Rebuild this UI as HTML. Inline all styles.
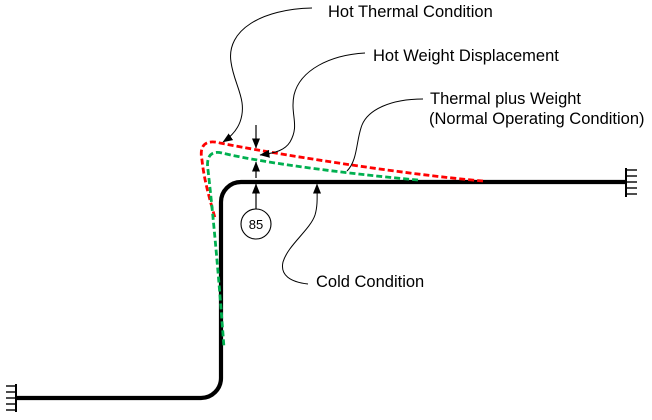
<!DOCTYPE html>
<html>
<head>
<meta charset="utf-8">
<style>
  html, body { margin: 0; padding: 0; background: #ffffff; }
  svg { display: block; }
  text { font-family: "Liberation Sans", Arial, sans-serif; fill: #000; }
</style>
</head>
<body>
<svg width="652" height="420" viewBox="0 0 652 420" xmlns="http://www.w3.org/2000/svg">
  <defs>
    <marker id="ah" markerUnits="userSpaceOnUse" markerWidth="10" markerHeight="8" refX="9.5" refY="4" orient="auto">
      <path d="M0,0 L10,4 L0,8 z" fill="#000"/>
    </marker>
  </defs>

  <!-- Pipe (cold condition) -->
  <path d="M16,398 L201,398 A20,20 0 0 0 221,378 L221,202 A20,20 0 0 1 241,182 L626,182"
        fill="none" stroke="#000" stroke-width="4.2"/>

  <!-- Left anchor hatch -->
  <line x1="16" y1="384" x2="16" y2="412" stroke="#000" stroke-width="2"/>
  <g stroke="#000" stroke-width="1.4">
    <line x1="6" y1="386" x2="16" y2="386"/>
    <line x1="6" y1="392" x2="16" y2="392"/>
    <line x1="6" y1="398" x2="16" y2="398"/>
    <line x1="6" y1="404" x2="16" y2="404"/>
    <line x1="6" y1="410" x2="16" y2="410"/>
  </g>

  <!-- Right anchor hatch -->
  <line x1="626" y1="168" x2="626" y2="197" stroke="#000" stroke-width="2"/>
  <g stroke="#000" stroke-width="1.4">
    <line x1="626" y1="170" x2="637" y2="170"/>
    <line x1="626" y1="176" x2="637" y2="176"/>
    <line x1="626" y1="182" x2="637" y2="182"/>
    <line x1="626" y1="188" x2="637" y2="188"/>
    <line x1="626" y1="194" x2="637" y2="194"/>
  </g>

  <!-- Red dashed (hot thermal) -->
  <path d="M483,181 C400,174 270,153 220,143 C205,139 199,146 202,160 C204,180 210,200 215,218"
        fill="none" stroke="#ff0000" stroke-width="2.8" stroke-dasharray="6,3"/>

  <!-- Green dashed (thermal plus weight) -->
  <path d="M418,180 C360,175 268,164 222,153 C210,150 206,158 208,170 C212,205 218,265 224,348"
        fill="none" stroke="#00b050" stroke-width="2.8" stroke-dasharray="6,3"/>

  <!-- Small dimension arrows -->
  <line x1="256" y1="125" x2="256" y2="148" stroke="#000" stroke-width="1.2" marker-end="url(#ah)"/>
  <line x1="256" y1="178" x2="256" y2="162" stroke="#000" stroke-width="1.2" marker-end="url(#ah)"/>
  <line x1="256" y1="209" x2="256" y2="184" stroke="#000" stroke-width="1.2" marker-end="url(#ah)"/>

  <!-- Circle 85 -->
  <circle cx="256" cy="224" r="15" fill="#fff" stroke="#000" stroke-width="1.1"/>
  <text x="256" y="229" font-size="13" text-anchor="middle">85</text>

  <!-- Leader lines -->
  <path d="M312,8 C262,9 226,30 231,62 C234,85 248,100 240,122 C237,130 232,136 223,142"
        fill="none" stroke="#000" stroke-width="1" marker-end="url(#ah)"/>
  <path d="M365,53 C330,55 300,70 294,95 C290,115 300,125 290,142 C285,150 276,153 260,155"
        fill="none" stroke="#000" stroke-width="1" marker-end="url(#ah)"/>
  <path d="M423,99 C390,99 368,110 362,125 C356,140 358,160 347,171"
        fill="none" stroke="#000" stroke-width="1"/>
  <path d="M308,284 C290,282 280,275 283,262 C288,245 310,230 315,215 C318,205 317,195 317,184"
        fill="none" stroke="#000" stroke-width="1" marker-end="url(#ah)"/>

  <!-- Labels -->
  <text x="328" y="17" font-size="16.5">Hot Thermal Condition</text>
  <text x="373" y="61" font-size="16.5">Hot Weight Displacement</text>
  <text x="430" y="104" font-size="16.5">Thermal plus Weight</text>
  <text x="429" y="124" font-size="16.5">(Normal Operating Condition)</text>
  <text x="316" y="287" font-size="16.5">Cold Condition</text>
</svg>
</body>
</html>
